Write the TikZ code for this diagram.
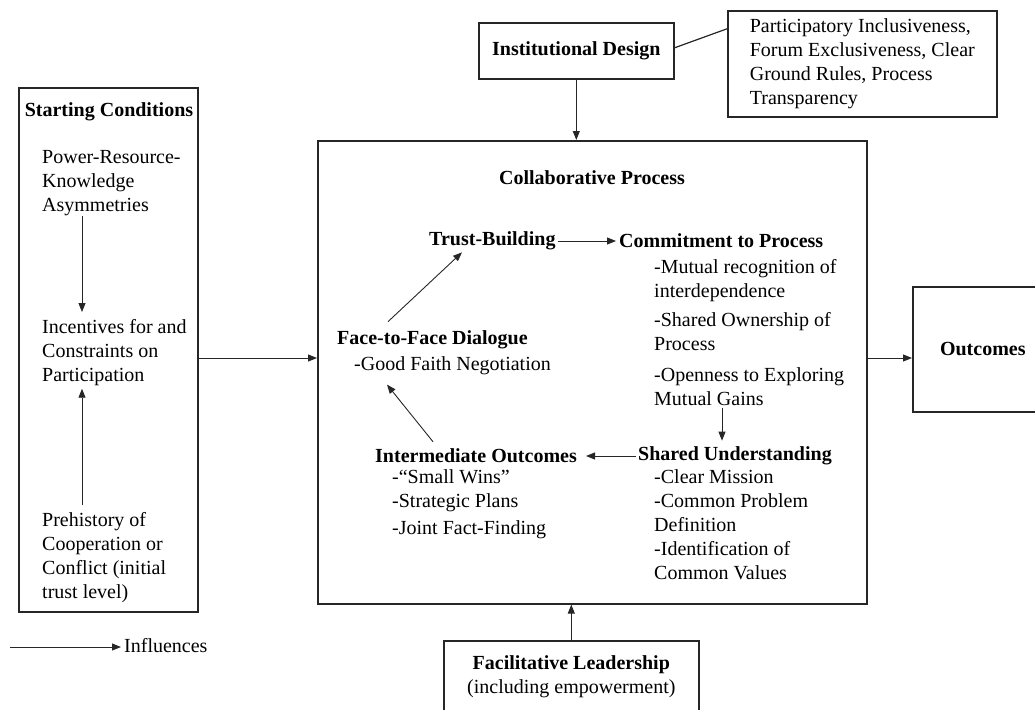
\documentclass[tikz,border=0pt]{standalone}
\usepackage{fontspec}
\setmainfont{Liberation Serif}
\usetikzlibrary{arrows.meta}
\begin{document}
\begin{tikzpicture}[x=1pt,y=-1pt,
  box/.style={draw=black!85, line width=1.6pt, inner sep=0pt, anchor=north west, align=center, font=\fontsize{20}{24}\selectfont},
  txt/.style={inner sep=0pt, anchor=north west, align=left, font=\fontsize{20}{24}\selectfont},
  ttl/.style={inner sep=0pt, font=\fontsize{20}{24}\selectfont\bfseries},
  arr/.style={draw=black!85, line width=0.9pt, -{Triangle[length=9pt,width=7pt]}},
  plain/.style={draw=black!85, line width=1.2pt}]
\useasboundingbox (0,0) rectangle (1035,709);

% boxes
\node[box, minimum width=179pt, minimum height=524pt] (start) at (18,87) {};
\node[box, minimum width=549pt, minimum height=463pt] (collab) at (317,140) {};
\node[box, minimum width=195pt, minimum height=56pt, font=\fontsize{20}{24}\selectfont\bfseries] (inst) at (478,22) {Institutional Design};
\node[box, minimum width=269pt, minimum height=106pt, align=left] (instd) at (727,10) {Participatory Inclusiveness,\\Forum Exclusiveness, Clear\\Ground Rules, Process\\Transparency};
\node[box, minimum width=140pt, minimum height=125pt, font=\fontsize{20}{24}\selectfont\bfseries] (out) at (912,286) {Outcomes};
\node[box, minimum width=255pt, minimum height=72pt] (fac) at (443,640) {\textbf{Facilitative Leadership}\\(including empowerment)};

% starting conditions
\node[ttl] (sct) at (109,112) {Starting Conditions};
\node[txt] (psa) at (42,150) {Power-Resource-\\Knowledge\\Asymmetries};
\node[txt] (inc) at (42,319) {Incentives for and\\Constraints on\\Participation};
\node[txt] (pre) at (42,512) {Prehistory of\\Cooperation or\\Conflict (initial\\trust level)};
\draw[arr] ([xshift=40pt]psa.south west) -- ([xshift=40pt,yshift=7pt]inc.north west);
\draw[arr] ([xshift=40pt,yshift=7pt]pre.north west) -- ([xshift=40pt,yshift=-3pt]inc.south west);

% main connectors
\coordinate (lvl) at (0,358);
\draw[arr] (start.east |- lvl) -- (collab.west |- lvl);
\draw[arr] (collab.east |- lvl) -- (out.west |- lvl);
\draw[arr] (inst.south) -- (inst.south |- collab.north);
\draw[plain] ([yshift=3pt]inst.east) -- ([yshift=35pt]instd.west);
\draw[arr] (fac.north) -- (fac.north |- collab.south);

% collaborative process
\node[ttl] (cpt) at (592,178) {Collaborative Process};
\node[ttl, anchor=west] (tb) at (429,241) {Trust-Building};
\node[ttl, anchor=west] (ctp) at (619,241) {Commitment to Process};
\draw[arr] ([xshift=2pt]tb.east) -- ([xshift=-3pt]ctp.west);
\node[txt] (ctpl) at (654,259) {-Mutual recognition of\\interdependence\\[5pt]-Shared Ownership of\\Process\\[7pt]-Openness to Exploring\\Mutual Gains};
\node[ttl, anchor=west] (su) at (638,456) {Shared Understanding};
\coordinate (cx) at (722,0);
\draw[arr, shorten <=2pt, shorten >=6pt] (ctpl.south -| cx) -- (su.north -| cx);
\node[txt] (sul) at (654,469) {-Clear Mission\\-Common Problem\\Definition\\-Identification of\\Common Values};
\node[ttl, anchor=west] (io) at (375,456) {Intermediate Outcomes};
\draw[arr] ([xshift=-2pt]su.west) -- ([xshift=9pt]io.east);
\node[txt] (iol) at (392,469) {-“Small Wins”\\-Strategic Plans\\[3pt]-Joint Fact-Finding};
\node[ttl, anchor=west] (ffd) at (337,340) {Face-to-Face Dialogue};
\node[txt] (gfn) at (354,356) {-Good Faith Negotiation};
\draw[arr] ([xshift=58pt,yshift=7pt]io.north west) -- ([xshift=33pt,yshift=-10pt]gfn.south west);
\draw[arr] ([xshift=51pt,yshift=9pt]ffd.north west) -- ([xshift=33pt,yshift=-2pt]tb.south west);

% legend
\node[txt, anchor=west] (infl) at (124,646) {Influences};
\coordinate (lg) at (10,647);
\draw[arr] (lg) -- ([xshift=-3pt]infl.west |- lg);
\end{tikzpicture}
\end{document}
